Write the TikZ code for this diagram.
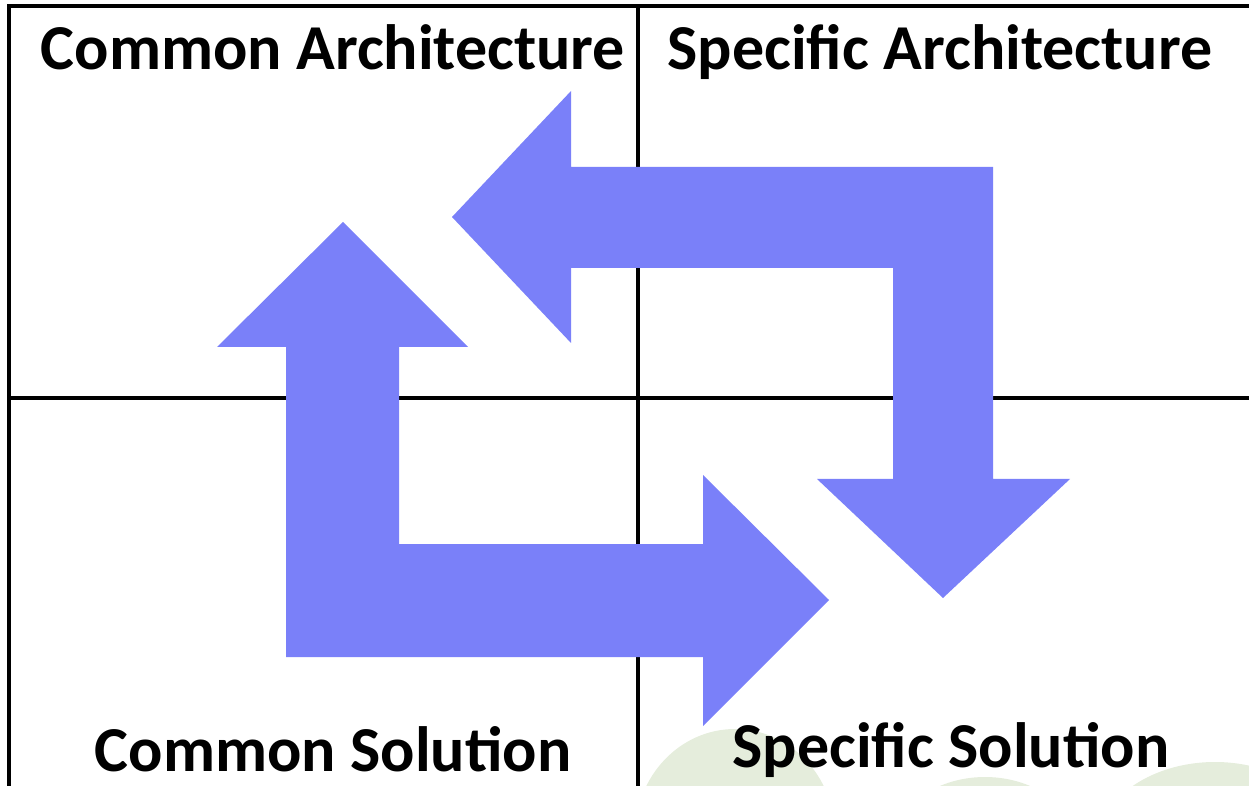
\documentclass[tikz,border=0pt]{standalone}
\usepackage{fontspec}
\setmainfont{Carlito}
\definecolor{arrowblue}{HTML}{7A80F9}
\definecolor{leafgreen}{HTML}{E5EDDC}
\tikzset{
	quarter/.style={font=\bfseries\fontsize{32}{38}\selectfont, inner sep=0pt},
	gridline/.style={line width=2pt, color=black},
	bigarrow/.style={fill=arrowblue}
}

\begin{document}
\begin{tikzpicture}[x=0.5pt, y=-0.5pt]
			%%%%% START %%%%%
			\useasboundingbox (0, 0) rectangle (1249, 786);
			\clip (0, 0) rectangle (1249, 786);
			
			% pale blobs along the bottom
			\fill[leafgreen] (735, 835) ellipse (100 and 106);
			\fill[leafgreen] (985, 852) ellipse (95 and 75);
			\fill[leafgreen] (1215, 850) ellipse (120 and 88);
			
			% grid
			\draw[gridline] (9, 786) -- (9, 6) -- (1249, 6);
			\draw[gridline] (638, 6) -- (638, 786);
			\draw[gridline] (9, 398) -- (1249, 398);
			
			% arrow from top right round to the left
			\fill[bigarrow] (452, 217) -- (571, 91) -- (571, 167) -- (993, 167)
				-- (993, 479) -- (1070, 479) -- (943, 598) -- (817, 479)
				-- (893, 479) -- (893, 268) -- (571, 268) -- (571, 343) -- cycle;
			
			% arrow from bottom left up and across
			\fill[bigarrow] (343, 222) -- (468, 347) -- (399, 347) -- (399, 544)
				-- (703, 544) -- (703, 475) -- (829, 600) -- (703, 726)
				-- (703, 657) -- (286, 657) -- (286, 347) -- (217, 347) -- cycle;
			
			% labels
			\node[quarter, anchor=base] (ca) at (333, 70) {Common Architecture};
			\node[quarter, anchor=base] (sa) at (940, 70) {Specific Architecture};
			\node[quarter, anchor=base] (cs) at (333, 771) {Common Solution};
			\node[quarter, anchor=base] (ss) at (951, 767) {Specific Solution};
			
			%%%%% END %%%%%
		\end{tikzpicture}
\end{document}
